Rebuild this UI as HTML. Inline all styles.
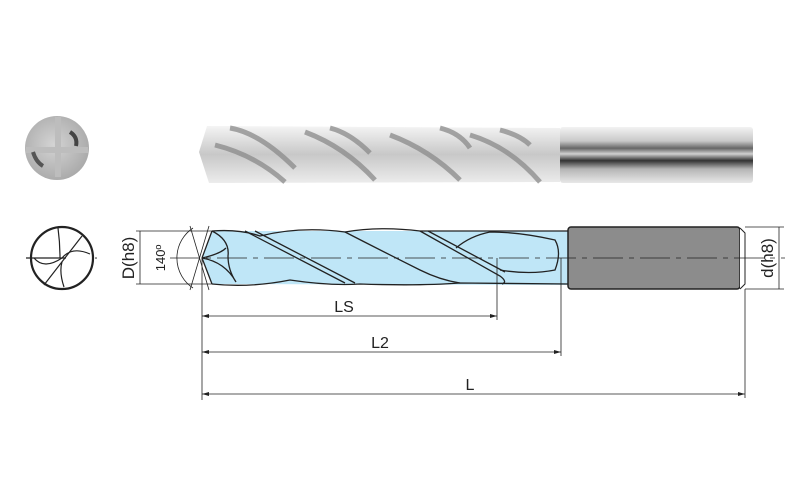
<!DOCTYPE html>
<html><head><meta charset="utf-8"><style>body{margin:0;background:#fff}svg{display:block}</style></head>
<body>
<svg width="800" height="500" viewBox="0 0 800 500" xmlns="http://www.w3.org/2000/svg" font-family="Liberation Sans, sans-serif">
<defs>
<linearGradient id="sh" x1="0" y1="0" x2="0" y2="1">
<stop offset="0" stop-color="#f2f2f2"/><stop offset="0.25" stop-color="#c8c8c8"/><stop offset="0.38" stop-color="#666"/><stop offset="0.48" stop-color="#d0d0d0"/><stop offset="0.6" stop-color="#333"/><stop offset="0.75" stop-color="#b5b5b5"/><stop offset="1" stop-color="#e8e8e8"/>
</linearGradient>
<linearGradient id="fl" x1="0" y1="0" x2="0" y2="1">
<stop offset="0" stop-color="#f4f4f4"/><stop offset="0.5" stop-color="#c8c8c8"/><stop offset="1" stop-color="#ececec"/>
</linearGradient>
<radialGradient id="cg" cx="0.45" cy="0.45" r="0.6"><stop offset="0" stop-color="#d4d4d4"/><stop offset="1" stop-color="#a8a8a8"/></radialGradient>
</defs>
<!-- photo end view -->
<circle cx="57" cy="148" r="32" fill="url(#cg)"/>
<path d="M58 117 v60 M26 150 h62" stroke="#bdbdbd" stroke-width="6" fill="none"/>
<path d="M70 132 q8 5 6 14" stroke="#444" stroke-width="4" fill="none"/>
<path d="M33 152 q3 10 10 14" stroke="#555" stroke-width="4" fill="none"/>
<!-- photo drill -->
<path d="M207 126 L560 128 L560 182 L209 183 L199 152 Z" fill="url(#fl)"/>
<g stroke="#8a8a8a" stroke-width="5" fill="none" opacity="0.75">
<path d="M215 145 q40 10 70 37"/><path d="M230 128 q30 5 65 40"/>
<path d="M305 132 q40 15 70 48"/><path d="M330 128 q20 5 40 25"/>
<path d="M390 135 q40 15 70 45"/><path d="M440 128 q20 5 30 20"/>
<path d="M470 135 q40 12 70 47"/><path d="M500 130 q20 5 30 15"/>
</g>
<rect x="560" y="127" width="193" height="56" rx="3" fill="url(#sh)"/>
<!-- end view drawing -->
<g stroke="#222" fill="none" stroke-width="1.2">
<circle cx="62" cy="258" r="31" stroke-width="2.2"/>
<line x1="26" y1="258" x2="66" y2="258"/>
<line x1="44" y1="285" x2="82" y2="236"/>
<path d="M58 228 q2 15 2 30 M34 258 q10 12 28 0 q10 -12 28 -4 M62 262 q-3 10 2 25"/>
</g>
<circle cx="96" cy="258" r="0.8" fill="#222"/>
<!-- blue body -->
<path d="M202 258 L212 231 L568 231 L568 285 L212 284 Z" fill="#bfe6f7"/>
<g stroke="#222" fill="none" stroke-width="1.3">
<path d="M212 231 Q240 229 260 236 Q300 226 345 232 Q380 226 420 231 L568 231"/>
<path d="M212 284 Q250 288 290 280 Q330 286 360 284 Q420 286 460 283 L568 284"/>
<path d="M202 258 L212 231 M202 258 L212 284"/>
<path d="M245 231 L345 283"/><path d="M255 231 L355 283"/>
<path d="M345 232 Q380 250 420 270 Q440 280 460 283"/>
<path d="M420 231 L500 276 Q508 282 502 284"/><path d="M428 231 L505 272"/>
<path d="M456 248 Q470 236 490 232 Q520 232 555 240 Q562 252 555 270 Q530 275 500 270"/>
<path d="M212 231 Q230 240 228 256 Q228 270 236 282 M202 258 Q220 254 226 248 M202 258 Q225 262 236 282"/>
</g>
<!-- shank -->
<rect x="568" y="227" width="172" height="62" rx="3" fill="#8c8c8c" stroke="#222" stroke-width="1.5"/>
<path d="M740 228 L745 233 L745 284 L740 289" stroke="#222" fill="#fff"/>
<!-- centerline -->
<line x1="170" y1="258" x2="785" y2="258" stroke="#222" stroke-width="0.8" stroke-dasharray="30 6 5 6"/>
<!-- dimensions -->
<g stroke="#222" stroke-width="0.8" fill="none">
<line x1="136" y1="231" x2="212" y2="231"/><line x1="136" y1="284" x2="212" y2="284"/>
<line x1="140" y1="231" x2="140" y2="284"/>
<path d="M193 228 A36 36 0 0 0 193 288"/>
<line x1="190" y1="226" x2="209" y2="290"/><line x1="190" y1="290" x2="209" y2="226"/>
<line x1="202" y1="258" x2="202" y2="400"/>
<line x1="497" y1="258" x2="497" y2="320"/>
<line x1="561" y1="258" x2="561" y2="356"/>
<line x1="745" y1="289" x2="745" y2="398"/>
<line x1="202" y1="316" x2="497" y2="316"/>
<line x1="202" y1="352" x2="561" y2="352"/>
<line x1="202" y1="394" x2="745" y2="394"/>
<line x1="745" y1="227" x2="784" y2="227"/><line x1="745" y1="289" x2="784" y2="289"/>
<line x1="779" y1="227" x2="779" y2="289"/>
</g>
<g fill="#222">
<path d="M202 316 l7 -2 v4z M497 316 l-7 -2 v4z M202 352 l7 -2 v4z M561 352 l-7 -2 v4z M202 394 l7 -2 v4z M745 394 l-7 -2 v4z"/>
</g>
<g font-size="16" fill="#222" text-anchor="middle">
<text x="344" y="312">LS</text>
<text x="380" y="348">L2</text>
<text x="470" y="390">L</text>
<text font-size="17" transform="translate(134 258) rotate(-90)">D(h8)</text>
<text font-size="13" transform="translate(165 258) rotate(-90)">140º</text>
<text font-size="17" transform="translate(773 258) rotate(-90)">d(h8)</text>
</g>
</svg>
</body></html>
